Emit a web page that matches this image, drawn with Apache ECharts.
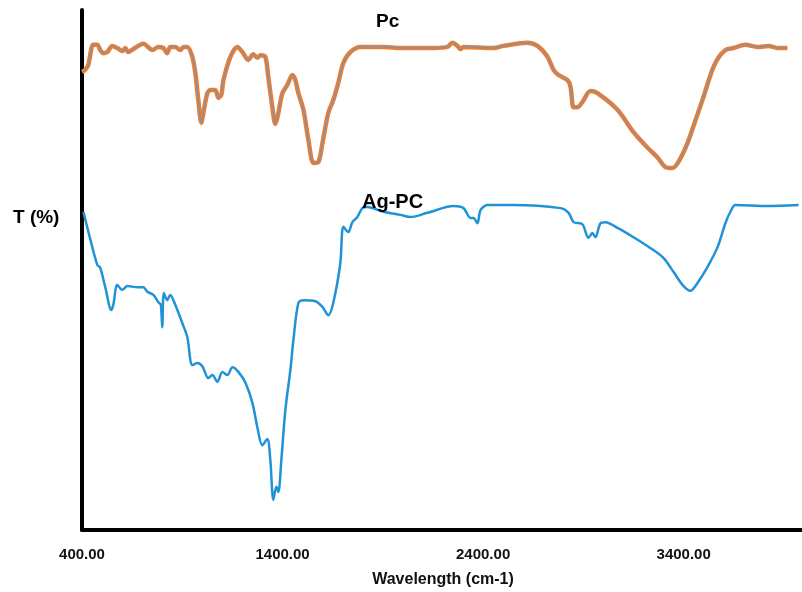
<!DOCTYPE html>
<html>
<head>
	<meta charset="UTF-8">
	<title>FTIR</title>
	<script src="https://cdn.jsdelivr.net/npm/echarts@6/dist/echarts.min.js"></script>
	<style>
		html, body { margin: 0; padding: 0; background: #fff; }
		#main { width: 802px; height: 592px; }
	</style>
</head>
<body>
<div id="main"></div>
<script>
// Pc spectrum (wavenumber / transmittance, arbitrary T scale)
var pcWave = [400, 416, 431, 456, 476, 491, 506, 526, 551, 576, 601, 616, 631, 656, 706, 751, 781, 805, 825, 840,
	865, 890, 906, 925, 950, 965, 980, 995, 1005, 1025, 1040, 1065, 1080, 1095, 1105, 1140, 1175, 1200, 1229, 1254,
	1274, 1290, 1314, 1329, 1349, 1364, 1379, 1399, 1424, 1449, 1464, 1479, 1504, 1529, 1554, 1579, 1599, 1628, 1653, 1678,
	1703, 1738, 1788, 1903, 1988, 2152, 2222, 2247, 2272, 2287, 2302, 2452, 2502, 2621, 2671, 2721, 2751, 2776, 2821, 2836,
	2851, 2871, 2895, 2935, 2970, 3070, 3150, 3220, 3269, 3309, 3344, 3374, 3419, 3459, 3499, 3543, 3573, 3608, 3648, 3708,
	3768, 3823, 3867, 3917];
var pcT = [88.1, 88.5, 89.4, 93.3, 93.3, 92.3, 91.7, 91.9, 93.1, 92.7, 92.1, 92.7, 91.9, 92.5, 93.5, 92.3, 92.9, 92.7, 91.7, 92.9,
	92.9, 92.3, 92.9, 92.9, 91.0, 87.9, 82.7, 78.3, 80.2, 84.0, 84.6, 84.6, 83.1, 83.7, 86.5, 91.0, 92.9, 91.9, 90.4, 91.5,
	90.8, 91.3, 91.0, 87.1, 81.3, 78.1, 80.2, 84.0, 85.6, 87.5, 86.5, 84.0, 80.8, 75.0, 70.6, 70.8, 74.4, 80.2, 82.7, 86.0,
	89.8, 91.9, 92.9, 92.9, 92.7, 92.7, 92.9, 93.7, 93.1, 92.5, 92.9, 92.7, 93.1, 93.7, 93.1, 91.0, 88.5, 87.5, 86.5, 85.2,
	81.3, 81.3, 82.3, 84.4, 84.0, 80.8, 76.5, 73.5, 71.7, 69.8, 69.6, 70.8, 74.4, 78.8, 83.3, 88.5, 90.8, 92.3, 92.7, 93.3,
	92.9, 93.1, 92.7, 92.7];

// Ag-PC spectrum
var agWave = [407, 442, 476, 491, 516, 546, 556, 576, 601, 626, 676, 706, 726, 756, 781, 793, 800, 808, 825, 840,
	865, 900, 925, 950, 975, 1000, 1030, 1050, 1075, 1100, 1125, 1150, 1180, 1215, 1250, 1274, 1299, 1324, 1339, 1354,
	1369, 1379, 1394, 1414, 1439, 1454, 1479, 1504, 1564, 1599, 1628, 1653, 1688, 1703, 1728, 1748, 1773, 1798, 1823, 1903,
	1988, 2038, 2122, 2252, 2302, 2337, 2352, 2372, 2387, 2422, 2551, 2786, 2826, 2851, 2895, 2925, 2945, 2960, 2985, 3010,
	3070, 3150, 3235, 3300, 3350, 3395, 3434, 3469, 3519, 3569, 3608, 3633, 3658, 3818, 3973];
var agT = [61.2, 55.8, 51.0, 50.4, 46.7, 42.3, 43.3, 47.1, 46.2, 46.9, 46.7, 46.7, 45.8, 45.2, 43.8, 43.3, 39.0, 45.6, 44.2, 45.2,
	43.3, 39.8, 37.1, 31.7, 32.1, 31.5, 29.2, 29.8, 28.5, 30.4, 29.8, 31.3, 30.4, 28.3, 24.4, 19.8, 16.3, 17.5, 13.5, 5.8,
	8.3, 7.3, 13.5, 23.1, 30.8, 36.5, 43.7, 44.2, 44.0, 42.9, 41.3, 43.7, 51.3, 58.3, 57.3, 59.2, 60.2, 61.9, 62.1, 61.2,
	60.6, 60.2, 61.0, 62.3, 61.9, 60.0, 60.0, 59.0, 61.5, 62.5, 62.5, 61.9, 61.0, 59.2, 58.8, 56.2, 57.1, 56.3, 59.0, 59.2,
	58.1, 56.3, 54.2, 52.3, 49.6, 47.1, 46.0, 47.5, 50.6, 54.4, 59.0, 61.2, 62.5, 62.3, 62.5];

var xTicks = [400, 1400, 2400, 3400];

function zip(a, b) {
	var out = [];
	for (var i = 0; i < a.length; i++) out.push([a[i], b[i]]);
	return out;
}

var pcData = zip(pcWave, pcT);
var agData = zip(agWave, agT);

var myChart = echarts.init(document.getElementById('main'));
var option = {
	animation: false,
	backgroundColor: '#fff',
	grid: { left: 82, right: -2, top: 10, bottom: 62, outerBoundsMode: 'none', containLabel: false },
	xAxis: {
		type: 'value',
		min: 400,
		max: 4000,
		interval: 1000,
		name: 'Wavelength (cm-1)',
		nameLocation: 'middle',
		nameGap: 42,
		nameTextStyle: { fontFamily: 'Liberation Sans', fontWeight: 'bold', fontSize: 16, color: '#111' },
		axisLine: { lineStyle: { color: '#000', width: 4 } },
		axisTick: { show: false },
		splitLine: { show: false },
		axisLabel: {
			margin: 17,
			showMaxLabel: false,
			fontFamily: 'Liberation Sans', fontWeight: 'bold', fontSize: 15, color: '#111',
			formatter: function (v) { return xTicks.indexOf(v) >= 0 ? v.toFixed(2) : ''; }
		}
	},
	yAxis: {
		type: 'value',
		min: 0,
		max: 100,
		axisLine: { show: true, onZero: false, lineStyle: { color: '#000', width: 4 } },
		axisTick: { show: false },
		axisLabel: { show: false },
		splitLine: { show: false }
	},
	series: [
		{
			name: 'Pc',
			type: 'line',
			data: pcData,
			showSymbol: false,
			smooth: 0.3,
			lineStyle: { color: '#ED7D31', width: 4.5 },
			z: 2
		},
		{
			name: 'Pc-inner',
			type: 'line',
			data: pcData,
			showSymbol: false,
			smooth: 0.3,
			lineStyle: { color: '#5B9BD5', width: 1 },
			z: 3
		},
		{
			name: 'Ag-PC',
			type: 'line',
			data: agData,
			showSymbol: false,
			smooth: 0.3,
			lineStyle: { color: '#1F93D8', width: 2.5 },
			z: 2
		}
	],
	graphic: [
		{ type: 'text', left: 13, top: 208, style: { text: 'T (%)', font: 'bold 19px "Liberation Sans"', fill: '#000' } },
		{ type: 'text', left: 376, top: 12, style: { text: 'Pc', font: 'bold 19px "Liberation Sans"', fill: '#000' } },
		{ type: 'text', left: 362, top: 192, z: 10, style: { text: 'Ag-PC', font: 'bold 20px "Liberation Sans"', fill: '#000' } }
	]
};
myChart.setOption(option);
</script>
</body>
</html>
